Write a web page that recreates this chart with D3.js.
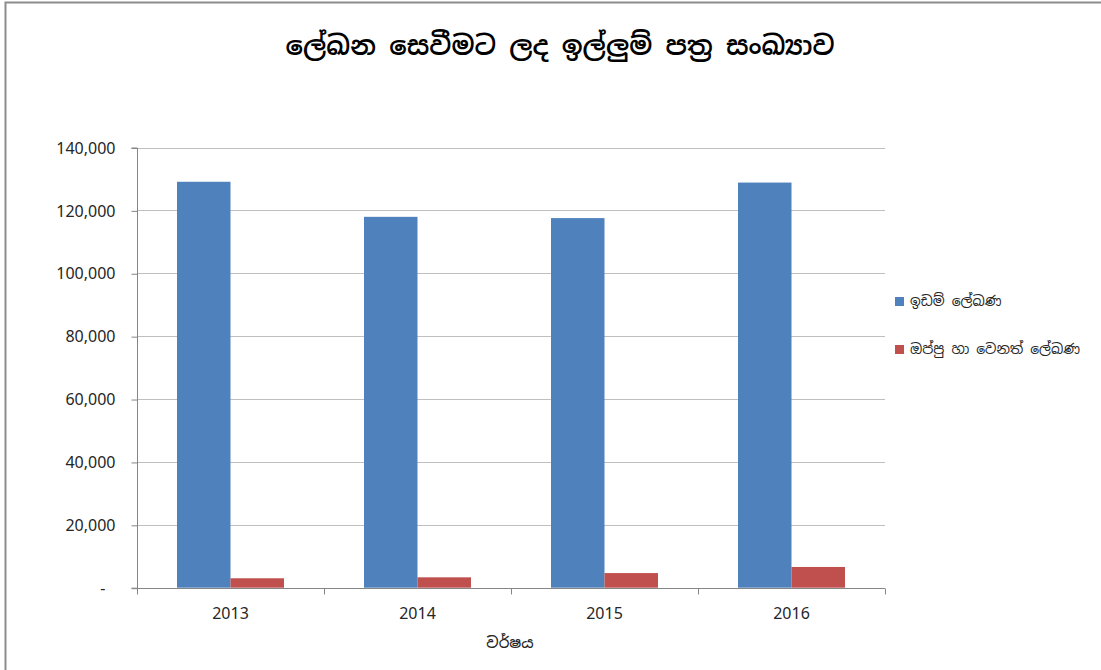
<!DOCTYPE html>
<html><head><meta charset="utf-8">
<script src="https://cdn.jsdelivr.net/npm/d3@7"></script>
<style>body{margin:0;background:#fff;}svg{display:block;}</style>
</head><body>
<svg id="c" width="1101" height="670"></svg>
<script>
const categories = ["2013", "2014", "2015", "2016"];
const seriesNames = ["ඉඩම් ලේඛණ", "ඔප්පු හා වෙනත් ලේඛණ"];
const seriesA = [129100, 117950, 117550, 128850];
const seriesB = [3000, 3300, 4650, 6600];
const yTicks = [0, 20000, 40000, 60000, 80000, 100000, 120000, 140000];
const title = "ලේඛන සෙවීමට ලද ඉල්ලුම් පත්‍ර සංඛ්‍යාව";
const xTitle = "වර්ෂය";
const colors = ["#4f81bd", "#c0504d"];

(function () {
const svg = d3.select("#c");
const font = "'Noto Sans Sinhala','Iskoola Pota','Noto Serif Sinhala','Noto Sans',sans-serif";
const numFont = "'Noto Sans','Open Sans',sans-serif";
const pL = 137, pR = 885, pT = 147.5, pB = 587.7;

// frame
svg.append("path").attr("d", "M5.5,670 L5.5,2.5 L1101,2.5")
  .attr("fill", "none").attr("stroke", "#8c8c8c").attr("stroke-width", 2);

const x = d3.scaleBand().domain(categories).range([pL, pR]).paddingInner(0).paddingOuter(0);
const y = d3.scaleLinear().domain([0, 140000]).range([pB, pT]);
const groupW = 107;
const off = (x.bandwidth() - groupW) / 2;
const bx = d3.scaleBand().domain([0, 1]).range([off, off + groupW]);

// gridlines
svg.append("g").selectAll("line").data(yTicks.filter(d => d > 0)).join("line")
  .attr("x1", pL).attr("x2", pR)
  .attr("y1", d => Math.round(y(d)) + 0.5).attr("y2", d => Math.round(y(d)) + 0.5)
  .attr("stroke", "#bfbfbf").attr("stroke-width", 1);

// bars
const series = [seriesA, seriesB];
series.forEach((vals, si) => {
  svg.append("g").selectAll("rect").data(vals).join("rect")
    .attr("x", (d, i) => x(categories[i]) + bx(si))
    .attr("width", bx.bandwidth())
    .attr("y", d => y(d))
    .attr("height", d => y(0) - y(d))
    .attr("fill", colors[si]);
});

// y axis
const yAxis = d3.axisLeft(y).tickValues(yTicks).tickSize(6).tickPadding(16)
  .tickFormat(d => d === 0 ? "-" : d3.format(",")(d));
const gy = svg.append("g").attr("transform", `translate(${pL + 0.5},0.5)`).call(yAxis);
gy.select(".domain").attr("stroke", "#868686").attr("d", `M-6,${pT}H0V${pB}H-6`);
gy.selectAll(".tick line").attr("stroke", "#868686");
gy.selectAll("text").attr("font-family", numFont).attr("font-size", 16).attr("fill", "#262626")
  .attr("dx", d => d === 0 ? -10 : 0);

// x axis
const gx = svg.append("g").attr("transform", `translate(0,${Math.round(pB) + 0.5})`);
gx.append("line").attr("x1", pL).attr("x2", pR).attr("stroke", "#868686");
gx.selectAll("line.t").data(categories.concat(["end"])).join("line").attr("class", "t")
  .attr("x1", (d, i) => Math.round(i < categories.length ? x(d) : pR) + 0.5)
  .attr("x2", (d, i) => Math.round(i < categories.length ? x(d) : pR) + 0.5)
  .attr("y1", 0).attr("y2", 6).attr("stroke", "#868686");
gx.selectAll("text").data(categories).join("text")
  .attr("x", d => x(d) + x.bandwidth() / 2).attr("y", 30)
  .attr("text-anchor", "middle").attr("font-family", numFont)
  .attr("font-size", 16).attr("fill", "#262626").text(d => d);

// titles
svg.append("text").attr("x", 560).attr("y", 55).attr("text-anchor", "middle")
  .attr("font-family", font).attr("font-size", 26.5).attr("font-weight", 600).attr("fill", "#000").text(title);
svg.append("text").attr("x", 510).attr("y", 648).attr("text-anchor", "middle")
  .attr("font-family", font).attr("font-size", 15).attr("font-weight", 500).attr("fill", "#262626").text(xTitle);

// legend
const lg = svg.append("g");
seriesNames.forEach((n, i) => {
  const yy = 297 + i * 48;
  lg.append("rect").attr("x", 895).attr("y", yy).attr("width", 9).attr("height", 9).attr("fill", colors[i]);
  lg.append("text").attr("x", 910).attr("y", yy + 9).attr("font-family", font).attr("font-size", 14)
    .attr("fill", "#262626").text(n);
});
})();
</script>
</body></html>
